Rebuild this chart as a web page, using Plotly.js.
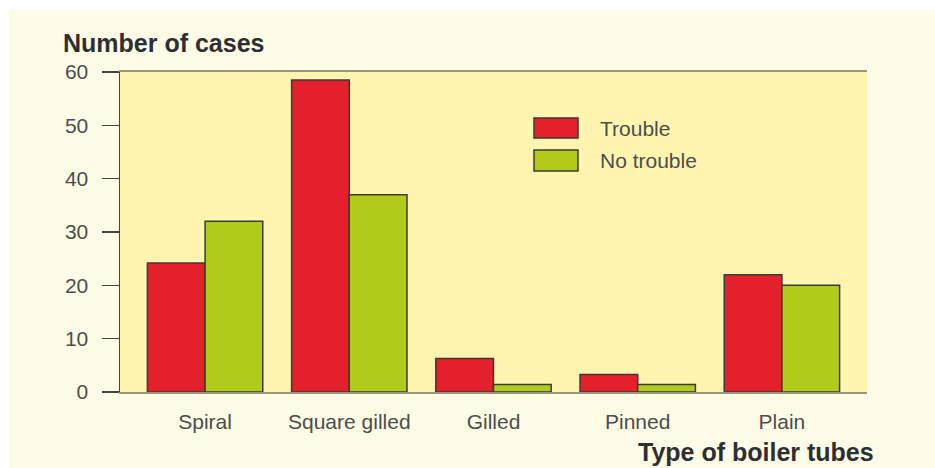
<!DOCTYPE html>
<html>
<head>
<meta charset="utf-8">
<script src="https://cdn.plot.ly/plotly-3.0.1.min.js"></script>
<style>html,body{margin:0;padding:0;background:#fff;}#chart{width:935px;height:468px;}</style>
</head>
<body>
<div id="chart"></div>
<script>
const categories = ["Spiral", "Square gilled", "Gilled", "Pinned", "Plain"];
const troubleValues = [24.2, 58.5, 6.3, 3.3, 22];
const noTroubleValues = [32, 37, 1.4, 1.4, 20];
const seriesNames = ["Trouble", "No trouble"];
const seriesColors = ["#E4202C", "#B2CB1A"];
const yTickValues = [0, 10, 20, 30, 40, 50, 60];
const yTitle = "Number of cases";
const xTitle = "Type of boiler tubes";

const font = "Liberation Sans, Arial, Helvetica, sans-serif";
const textColor = "#4d4d4d";
const titleColor = "#2d2f33";

const traces = [troubleValues, noTroubleValues].map((vals, i) => ({
  type: "bar",
  x: categories,
  y: vals,
  name: seriesNames[i],
  marker: { color: seriesColors[i], line: { color: "#3a3a36", width: 1.5 } },
  hoverinfo: "x+y+name"
}));

// Layout geometry (plot area 120..867 x 72..392)
const W = 935, H = 468, L = 120, R = 867, T = 72, B = 392;
const px = x => (x - L) / (R - L);
const py = y => (B - y) / (B - T);

const shapes = [
  { type: "rect", xref: "paper", yref: "paper", layer: "below",
    x0: px(9), x1: px(935), y0: py(11), y1: py(468),
    fillcolor: "#FEFBE6", line: { width: 0 } },
  { type: "rect", xref: "paper", yref: "paper", layer: "below",
    x0: 0, x1: 1, y0: 0, y1: 1,
    fillcolor: "#FFF5B1", line: { width: 0 } }
];
const legendY = [[118, 138], [150, 171]];
seriesNames.forEach((n, i) => {
  shapes.push({ type: "rect", xref: "paper", yref: "paper",
    x0: px(534), x1: px(578), y0: py(legendY[i][1]), y1: py(legendY[i][0]),
    fillcolor: seriesColors[i], line: { color: "#3a3a36", width: 1.5 } });
});

const annotations = seriesNames.map((n, i) => ({
  xref: "paper", yref: "paper", x: px(598), y: py((legendY[i][0] + legendY[i][1]) / 2),
  xanchor: "left", yanchor: "middle", showarrow: false, text: n,
  font: { family: font, size: 21, color: textColor }
}));
annotations.push({
  xref: "paper", yref: "paper", x: px(61), y: py(43), xanchor: "left", yanchor: "middle",
  showarrow: false, text: "<b>" + yTitle + "</b>",
  font: { family: font, size: 25, color: titleColor }
});
annotations.push({
  xref: "paper", yref: "paper", x: px(876), y: py(452), xanchor: "right", yanchor: "middle",
  showarrow: false, text: "<b>" + xTitle + "</b>",
  font: { family: font, size: 25, color: titleColor }
});

const layout = {
  width: W, height: H,
  margin: { l: L, r: W - R, t: T, b: H - B, pad: 0 },
  paper_bgcolor: "#ffffff",
  plot_bgcolor: "rgba(0,0,0,0)",
  showlegend: false,
  barmode: "group",
  bargap: 0.2,
  bargroupgap: 0,
  font: { family: font, size: 21, color: textColor },
  xaxis: {
    type: "category",
    range: [-0.59, 4.59],
    showline: true, linecolor: "#9a9680", linewidth: 2, mirror: true,
    ticks: "", showgrid: false, zeroline: false,
    tickfont: { family: font, size: 21, color: textColor },
    ticklabelstandoff: 10
  },
  yaxis: {
    range: [0, 60],
    tickvals: yTickValues,
    ticks: "outside", ticklen: 17, tickwidth: 1.5, tickcolor: "#444",
    showline: true, linecolor: "#444", linewidth: 1.5,
    showgrid: false, zeroline: false,
    tickfont: { family: font, size: 21, color: textColor },
    ticklabelstandoff: 9
  },
  shapes: shapes,
  annotations: annotations
};

Plotly.newPlot("chart", traces, layout, { displayModeBar: false, staticPlot: true });
</script>
</body>
</html>
